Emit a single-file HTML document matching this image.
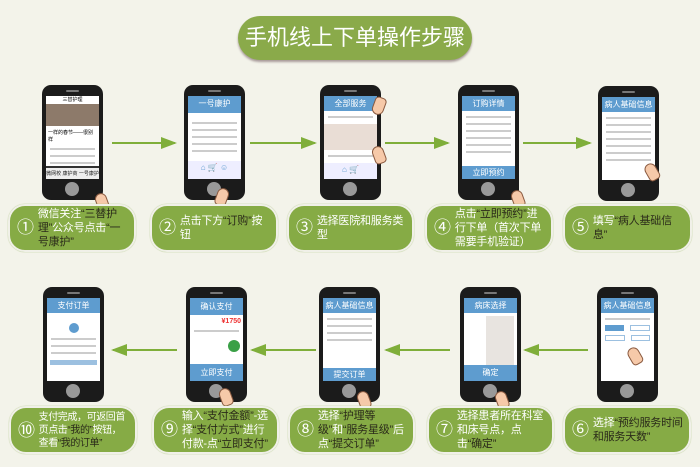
<!DOCTYPE html>
<html><head><meta charset="utf-8"><style>
*{margin:0;padding:0;box-sizing:border-box}
body{width:700px;height:467px;background:#f3f3ea;position:relative;overflow:hidden;font-family:"Liberation Sans","Noto Sans CJK SC",sans-serif}
.title{position:absolute;left:238px;top:16px;width:234px;height:44px;border-radius:22px;background:#8aaa4a;color:#fff;font-size:22px;line-height:44px;text-align:center;box-shadow:0 2px 2px #a89a9a}
.ph{position:absolute;width:61px;height:115px;background:#1b1b1b;border-radius:9px}
.ph:before{content:"";position:absolute;left:24px;top:5px;width:13px;height:2px;border-radius:1px;background:#777}
.ph:after{content:"";position:absolute;left:23px;bottom:4px;width:14px;height:14px;border-radius:50%;background:#999}
.sc{position:absolute;left:4px;top:11px;right:4px;bottom:21px;background:#fff;overflow:hidden}
.hd{background:#5e9ccf;color:#fff;font-size:8px;text-align:center;height:15px;line-height:15px}
.bt{position:absolute;left:0;right:0;bottom:0;height:13px;background:#5e9ccf;color:#fff;font-size:8px;text-align:center;line-height:13px}
.ln{height:2px;background:#ccc;margin:5px 4px}
.lb{position:absolute;height:48px;border-radius:17px;background:#86ab45;border:2px solid #f0f0e8;box-shadow:0 0 1px #9bb86a;color:#fff;font-size:11px;line-height:14px;display:flex;align-items:center;padding:0 6px 0 7px;letter-spacing:-0.2px}
.lb .n{font-size:17px;margin-right:4px;flex:none}
.lb b{color:#2b2b1a;font-weight:normal}
.ar{position:absolute;height:2px;background:#7fae3a}
.ar.r:after{content:"";position:absolute;right:-2px;top:-5px;border-left:16px solid #7fae3a;border-top:6px solid transparent;border-bottom:6px solid transparent}
.ar.l:after{content:"";position:absolute;left:-2px;top:-5px;border-right:16px solid #7fae3a;border-top:6px solid transparent;border-bottom:6px solid transparent}
.hand{position:absolute;width:12px;height:18px;background:#f6c9a9;border:1px solid #8a5a40;border-radius:6px 6px 4px 4px}
</style></head><body>
<div class="title">手机线上下单操作步骤</div>

<div class="ph" style="left:42px;top:85px"><div class="sc"><div style="height:8px;font-size:5px;text-align:center">三替护理</div><div style="height:22px;background:#8d7a6a"></div><div style="font-size:5px;margin:3px 2px">一样的春节——很别样</div><div class="ln"></div><div class="ln"></div><div class="ln"></div><div class="bt" style="background:#eee;color:#222;font-size:5px;border-top:2px solid #333">微网校 康护商 一号康护</div></div></div>
<div class="ph" style="left:184px;top:85px"><div class="sc"><div class="hd" style="height:17px">一号康护</div><div class="ln" style="margin-top:9px"></div><div class="ln"></div><div class="ln"></div><div class="ln"></div><div class="ln"></div><div class="bt" style="background:#eef;height:18px;color:#5e9ccf">⌂ 🛒 ☺</div></div></div>
<div class="ph" style="left:320px;top:85px"><div class="sc"><div class="hd">全部服务</div><div class="ln"></div><div style="height:26px;background:#e9ddd5;margin-top:6px"></div><div class="ln"></div><div class="bt" style="background:#eef;height:16px;color:#5e9ccf">⌂ 🛒</div></div></div>
<div class="ph" style="left:458px;top:85px"><div class="sc"><div class="hd">订购详情</div><div class="ln"></div><div class="ln"></div><div class="ln"></div><div class="ln"></div><div class="ln"></div><div class="ln"></div><div class="bt">立即预约</div></div></div>
<div class="ph" style="left:598px;top:86px"><div class="sc"><div class="hd">病人基础信息</div><div class="ln"></div><div class="ln"></div><div class="ln"></div><div class="ln"></div><div class="ln"></div><div class="ln"></div><div class="ln"></div></div></div>

<div class="hand" style="left:96px;top:193px;transform:rotate(-20deg)"></div>
<div class="hand" style="left:216px;top:188px;transform:rotate(20deg)"></div>
<div class="hand" style="left:373px;top:97px;transform:rotate(200deg)"></div>
<div class="hand" style="left:373px;top:146px;transform:rotate(-20deg)"></div>
<div class="hand" style="left:512px;top:190px;transform:rotate(-20deg)"></div>
<div class="hand" style="left:646px;top:163px;transform:rotate(-30deg)"></div>

<div class="ar r" style="left:112px;top:142px;width:63px"></div>
<div class="ar r" style="left:250px;top:142px;width:65px"></div>
<div class="ar r" style="left:385px;top:142px;width:63px"></div>
<div class="ar r" style="left:523px;top:142px;width:67px"></div>

<div class="lb" style="left:8px;top:204px;width:128px"><span class="n">①</span><span>微信关注<b>“三替护理”</b>公众号点击<b>“一号康护”</b></span></div>
<div class="lb" style="left:150px;top:204px;width:128px"><span class="n">②</span><span>点击下方<b>“订购”</b>按钮</span></div>
<div class="lb" style="left:287px;top:204px;width:127px"><span class="n">③</span><span>选择医院和服务类型</span></div>
<div class="lb" style="left:425px;top:204px;width:128px"><span class="n">④</span><span>点击<b>“立即预约”</b>进行下单（首次下单需要手机验证）</span></div>
<div class="lb" style="left:563px;top:204px;width:129px"><span class="n">⑤</span><span>填写<b>“病人基础信息”</b></span></div>

<div class="ph" style="left:43px;top:287px"><div class="sc"><div class="hd">支付订单</div><div style="width:10px;height:10px;border-radius:50%;background:#5e9ccf;margin:10px auto 4px"></div><div class="ln"></div><div class="ln"></div><div class="ln"></div><div style="height:5px;margin:6px 3px;background:#9cc0e0"></div></div></div>
<div class="ph" style="left:186px;top:287px"><div class="sc"><div class="hd" style="height:17px;line-height:17px">确认支付</div><div style="font-size:7px;color:#e33;text-align:right;margin:3px 2px;font-weight:bold">¥1750</div><div class="ln"></div><div style="width:12px;height:12px;border-radius:50%;background:#3aa046;margin:8px 0 0 38px"></div><div class="bt" style="height:17px;line-height:17px">立即支付</div></div></div>
<div class="ph" style="left:319px;top:287px"><div class="sc"><div class="hd">病人基础信息</div><div class="ln"></div><div class="ln"></div><div class="ln"></div><div class="ln"></div><div class="bt">提交订单</div></div></div>
<div class="ph" style="left:460px;top:287px"><div class="sc"><div class="hd">病床选择</div><div style="height:50px;margin:3px;background:linear-gradient(90deg,#fff 40%,#e8e4e0 40%)"></div><div class="bt" style="height:16px;line-height:16px">确定</div></div></div>
<div class="ph" style="left:597px;top:287px"><div class="sc"><div class="hd">病人基础信息</div><div class="ln"></div><div style="display:flex;gap:6px;margin:4px"><div style="flex:1;height:6px;background:#5e9ccf"></div><div style="flex:1;height:6px;border:1px solid #9cc0e0"></div></div><div style="display:flex;gap:6px;margin:4px"><div style="flex:1;height:6px;border:1px solid #9cc0e0"></div><div style="flex:1;height:6px;border:1px solid #9cc0e0"></div></div></div></div>

<div class="hand" style="left:220px;top:388px;transform:rotate(-20deg)"></div>
<div class="hand" style="left:358px;top:391px;transform:rotate(-20deg)"></div>
<div class="hand" style="left:496px;top:391px;transform:rotate(-20deg)"></div>
<div class="hand" style="left:629px;top:347px;transform:rotate(-30deg)"></div>

<div class="ar l" style="left:113px;top:349px;width:64px"></div>
<div class="ar l" style="left:252px;top:349px;width:64px"></div>
<div class="ar l" style="left:386px;top:349px;width:64px"></div>
<div class="ar l" style="left:525px;top:349px;width:63px"></div>

<div class="lb" style="left:9px;top:406px;width:128px;font-size:10px;line-height:13px;letter-spacing:-0.4px"><span class="n">⑩</span><span>支付完成，可返回首页点击<b>“我的”</b>按钮，查看<b>“我的订单”</b></span></div>
<div class="lb" style="left:152px;top:406px;width:127px"><span class="n">⑨</span><span>输入<b>“支付金额”</b>-选择<b>“支付方式”</b>进行付款-点<b>“立即支付”</b></span></div>
<div class="lb" style="left:288px;top:406px;width:127px"><span class="n">⑧</span><span>选择<b>“护理等级”</b>和<b>“服务星级”</b>后点<b>“提交订单”</b></span></div>
<div class="lb" style="left:427px;top:406px;width:127px"><span class="n">⑦</span><span>选择患者所在科室和床号点，点击<b>“确定”</b></span></div>
<div class="lb" style="left:563px;top:406px;width:128px"><span class="n">⑥</span><span>选择<b>“预约服务时间和服务天数”</b></span></div>
</body></html>
